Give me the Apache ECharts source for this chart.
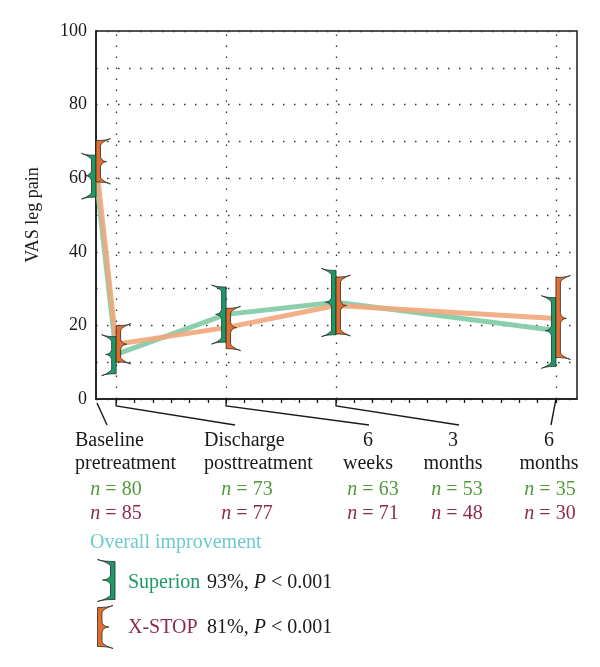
<!DOCTYPE html>
<html><head><meta charset="utf-8">
<script src="https://cdn.jsdelivr.net/npm/echarts@6/dist/echarts.min.js"></script>
<style>html,body{margin:0;padding:0;background:#fff}#c{width:600px;height:667px}</style>
</head><body><div id="c"></div>
<script>
// ---- data ----
const timepoints = ['Baseline\npretreatment', 'Discharge\nposttreatment', '6\nweeks', '3\nmonths', '6\nmonths'];
const weeks = [-1.1, 0, 6, 12, 24];            // position of each time point (weeks from discharge)
const tickWeeks = [0,1,2,3,4,5,6,7,8,9,10,11,12,13,14,15,16,17,18,19,20,21,22,23,24];
const superionMean = [60.7, 12.1, 23.0, 26.3, 18.6];
const superionLow  = [55.0, 7.0, 15.6, 17.6, 9.0];
const superionHigh = [66.1, 16.8, 30.3, 34.8, 27.4];
const xstopMean = [64.5, 14.9, 19.4, 25.4, 21.9];
const xstopLow  = [59.1, 10.2, 13.8, 17.8, 11.4];
const xstopHigh = [70.1, 19.8, 24.5, 33.0, 32.9];
const superionN = [80, 73, 63, 53, 35];
const xstopN = [85, 77, 71, 48, 30];
const yTicks = [0, 20, 40, 60, 80, 100];
const superionResult = '93%';
const xstopResult = '81%';
const pValue = '< 0.001';

// ---- style ----
const FONT = '"Liberation Serif", "DejaVu Serif", serif';
const GREEN = '#1b9a66', ORANGE = '#e06f2e';
const GREEN_LINE = '#7fcaa4', ORANGE_LINE = '#f1a77c';
const N_GREEN = '#4f9a3c', N_RED = '#8c2b4e';
const INK = '#1a1a1a';

function quad(p0, c, p1, n) {
  const out = [];
  for (let k = 1; k <= n; k++) {
    const t = k / n, u = 1 - t;
    out.push([u*u*p0[0] + 2*u*t*c[0] + t*t*p1[0], u*u*p0[1] + 2*u*t*c[1] + t*t*p1[1]]);
  }
  return out;
}
function bracketPoints(X, yT, yM, yB, d, bw, sl, nl) {
  const xa = X, xb = X + d*bw, xs = xb + d*sl, xn = xb + d*nl;
  const pts = [[xa, yT - 0.5]];
  pts.push(...quad([xa, yT-0.5], [xb + d*sl*0.6, yT-0.5], [xs, yT-2.5], 6));
  pts.push(...quad([xs, yT-2.5], [xb + d*2, yT+0.5], [xb, yT+4], 6));
  pts.push([xb, yM-5]);
  pts.push(...quad([xb, yM-5], [xb + d*1, yM-0.5], [xn, yM], 5));
  pts.push(...quad([xn, yM], [xb + d*1, yM+0.5], [xb, yM+5], 5));
  pts.push([xb, yB-4]);
  pts.push(...quad([xb, yB-4], [xb + d*2, yB-0.5], [xs, yB+2.5], 6));
  pts.push(...quad([xs, yB+2.5], [xb + d*sl*0.6, yB+0.5], [xa, yB+0.5], 6));
  return pts;
}
function bracketSeries(name, low, mean, high, dir, fill) {
  return {
    type: 'custom', name, z: 5, silent: true,
    encode: { x: 0, y: [1, 2, 3] },
    data: weeks.map((w, i) => [w, low[i], mean[i], high[i]]),
    renderItem: (params, api) => {
      const m = api.coord([api.value(0), api.value(2)]);
      const top = api.coord([api.value(0), api.value(3)])[1];
      const bot = api.coord([api.value(0), api.value(1)])[1];
      return { type: 'polygon', shape: { points: bracketPoints(m[0], top, m[1], bot, dir, 4.5, 10, 6) },
               style: { fill, stroke: '#2b2b2b', lineWidth: 0.8 } };
    }
  };
}

// layout anchors for the time point labels (pixels)
const labelAnchorX = [107, 235, 369, 459, 551];
const labelLeft = [75, 204, null, null, null];
const labelCenter = [null, null, 368, 453, 549];
const nCenter = [116, 247, 373, 457, 550];

const chart = echarts.init(document.getElementById('c'), null, { renderer: 'canvas' });

const graphic = [];
timepoints.forEach((t, i) => {
  graphic.push({ type: 'text', x: labelLeft[i] != null ? labelLeft[i] : labelCenter[i], y: 429.5, silent: true,
    style: { text: t, fontFamily: FONT, fontSize: 20, lineHeight: 23, fill: INK,
             align: labelLeft[i] != null ? 'left' : 'center', verticalAlign: 'top' } });
  [[superionN, N_GREEN, 490], [xstopN, N_RED, 514]].forEach(([arr, col, y]) => {
    graphic.push({ type: 'text', x: nCenter[i], y, silent: true,
      style: { text: '{i|n} = ' + arr[i], fontFamily: FONT, fontSize: 20, fill: col, align: 'center', verticalAlign: 'middle',
               rich: { i: { fontStyle: 'italic', fontFamily: FONT, fontSize: 20, fill: col } } } });
  });
});
graphic.push({ type: 'text', x: 90, y: 543, silent: true,
  style: { text: 'Overall improvement', fontFamily: FONT, fontSize: 20, fill: '#6ccbcb', align: 'left', verticalAlign: 'middle' } });
graphic.push({ type: 'polygon', silent: true, shape: { points: bracketPoints(115, 562, 580, 599, -1, 4.5, 13, 8) },
  style: { fill: GREEN, stroke: '#2b2b2b', lineWidth: 0.8 } });
graphic.push({ type: 'polygon', silent: true, shape: { points: bracketPoints(97.5, 608, 627, 646, 1, 4.5, 11, 7) },
  style: { fill: ORANGE, stroke: '#2b2b2b', lineWidth: 0.8 } });
[['Superion', GREEN, superionResult, 583], ['X-STOP', N_RED, xstopResult, 628]].forEach(([nm, col, res, y]) => {
  graphic.push({ type: 'text', x: 128, y, silent: true,
    style: { text: nm, fontFamily: FONT, fontSize: 20, fill: col, align: 'left', verticalAlign: 'middle' } });
  graphic.push({ type: 'text', x: 207, y, silent: true,
    style: { text: res + ', {i|P} ' + pValue, fontFamily: FONT, fontSize: 20, fill: INK, align: 'left', verticalAlign: 'middle',
             rich: { i: { fontStyle: 'italic', fontFamily: FONT, fontSize: 20, fill: INK } } } });
});

const dotted = { type: [1.5, 9.5], color: '#333', width: 1.3 };

chart.setOption({
  animation: false,
  backgroundColor: '#fff',
  grid: { left: 96, right: 23, top: 31, bottom: 268, show: true, borderColor: INK, borderWidth: 1.5, backgroundColor: 'transparent' },
  xAxis: {
    type: 'value', min: -1.1, max: 25.15,
    axisLine: { show: true, onZero: false, lineStyle: { color: INK, width: 1.5 } },
    axisTick: { show: true, customValues: tickWeeks, length: 4, lineStyle: { color: INK, width: 1.3 } },
    axisLabel: { show: false },
    splitLine: { show: false }
  },
  yAxis: {
    type: 'value', min: 0, max: 100, interval: 10,
    name: 'VAS leg pain', nameLocation: 'middle', nameGap: 54,
    nameTextStyle: { fontFamily: FONT, fontSize: 18, color: INK },
    axisLine: { show: true, onZero: false, lineStyle: { color: INK, width: 1.5 } },
    axisTick: { show: false },
    axisLabel: { formatter: v => (yTicks.indexOf(v) >= 0 ? String(v) : ''), fontFamily: FONT, fontSize: 18, color: INK, margin: 9 },
    splitLine: { show: true, lineStyle: dotted }
  },
  graphic,
  series: [
    {
      type: 'line', name: 'Superion', z: 2, symbol: 'none', silent: true,
      data: weeks.map((w, i) => [w, superionMean[i]]),
      lineStyle: { color: GREEN_LINE, width: 5, opacity: 0.9 },
      markLine: { silent: true, symbol: ['none', 'none'], label: { show: false }, lineStyle: dotted,
                  data: weeks.slice(1).map(w => ({ xAxis: w })) }
    },
    {
      type: 'line', name: 'X-STOP', z: 3, symbol: 'none', silent: true,
      data: weeks.map((w, i) => [w, xstopMean[i]]),
      lineStyle: { color: ORANGE_LINE, width: 5, opacity: 0.9 }
    },
    bracketSeries('Superion range', superionLow, superionMean, superionHigh, -1, GREEN),
    bracketSeries('X-STOP range', xstopLow, xstopMean, xstopHigh, 1, ORANGE),
    {
      type: 'custom', name: 'connectors', silent: true, clip: false, z: 4,
      encode: { x: 0, y: 1 },
      data: weeks.map(w => [w, 0]),
      renderItem: (params, api) => {
        const i = params.dataIndex;
        const p = api.coord([api.value(0), api.value(1)]);
        let pts;
        if (i === 0) pts = [[p[0] + 1, p[1] + 4], [labelAnchorX[i], 425]];
        else if (i === weeks.length - 1) pts = [[p[0], p[1]], [labelAnchorX[i], 425]];
        else pts = [[p[0], p[1]], [p[0], p[1] + 7], [labelAnchorX[i], 425]];
        return { type: 'polyline', shape: { points: pts }, style: { stroke: INK, lineWidth: 1.4, fill: null } };
      }
    }
  ]
});
</script>
</body></html>
